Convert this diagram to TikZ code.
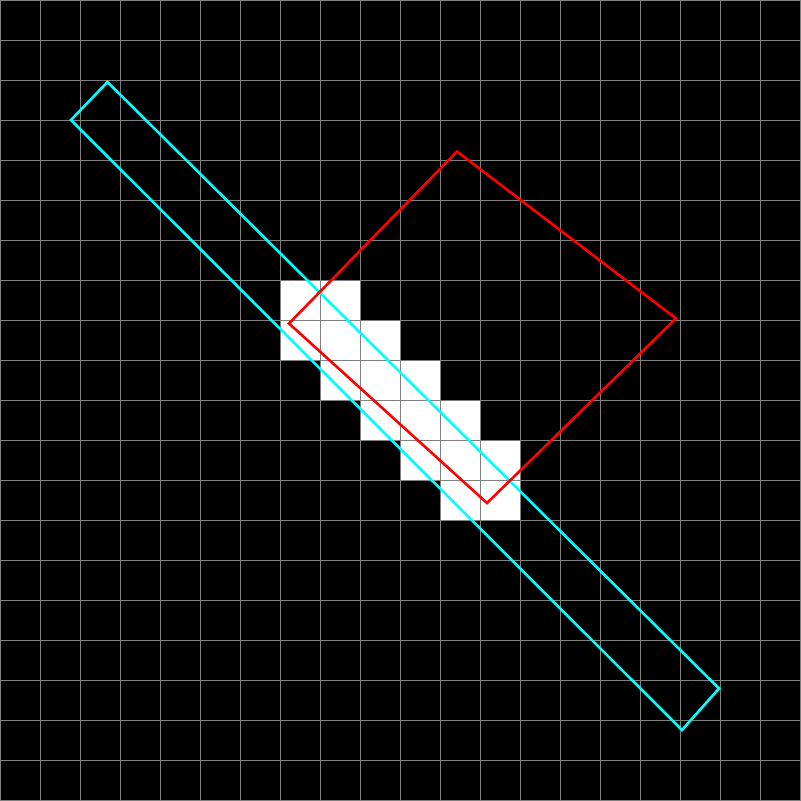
\documentclass[tikz,border=0pt]{standalone}
\definecolor{pcyan}{RGB}{0,255,255}
\definecolor{pred}{RGB}{255,0,0}
\definecolor{pgray}{RGB}{128,128,128}
\begin{document}
\begin{tikzpicture}[x=1pt,y=-1pt,
  gridline/.style={draw=pgray,line width=1pt},
  cellfill/.style={fill=white},
  cyanpoly/.style={draw=pcyan,line width=2.6pt,line join=miter},
  redpoly/.style={draw=pred,line width=2.6pt,line join=miter}]
\useasboundingbox (0,0) rectangle (801,801);
\fill[black] (0,0) rectangle (801,801);
% white cells (col,row)
\foreach \c/\r in {7/7,8/7, 7/8,8/8,9/8, 8/9,9/9,10/9, 9/10,10/10,11/10, 10/11,11/11,12/11, 11/12,12/12}{
  \path[cellfill] (\c*40,\r*40) rectangle (\c*40+40,\r*40+40);
}
% grid
\foreach \i in {0,...,20}{
  \draw[gridline] (\i*40+0.5,0) -- (\i*40+0.5,801);
  \draw[gridline] (0,\i*40+0.5) -- (801,\i*40+0.5);
}
% cyan rectangle
\coordinate (c1) at (107.5,82);
\coordinate (c2) at (719,688.5);
\coordinate (c3) at (682,730);
\coordinate (c4) at (71,120);
\draw[cyanpoly] (c1) -- (c2) -- (c3) -- (c4) -- cycle;
% red quadrilateral
\coordinate (r1) at (457,151.5);
\coordinate (r2) at (676,318.5);
\coordinate (r3) at (487,503);
\coordinate (r4) at (289,323.5);
\draw[redpoly] (r1) -- (r2) -- (r3) -- (r4) -- cycle;
\end{tikzpicture}
\end{document}
